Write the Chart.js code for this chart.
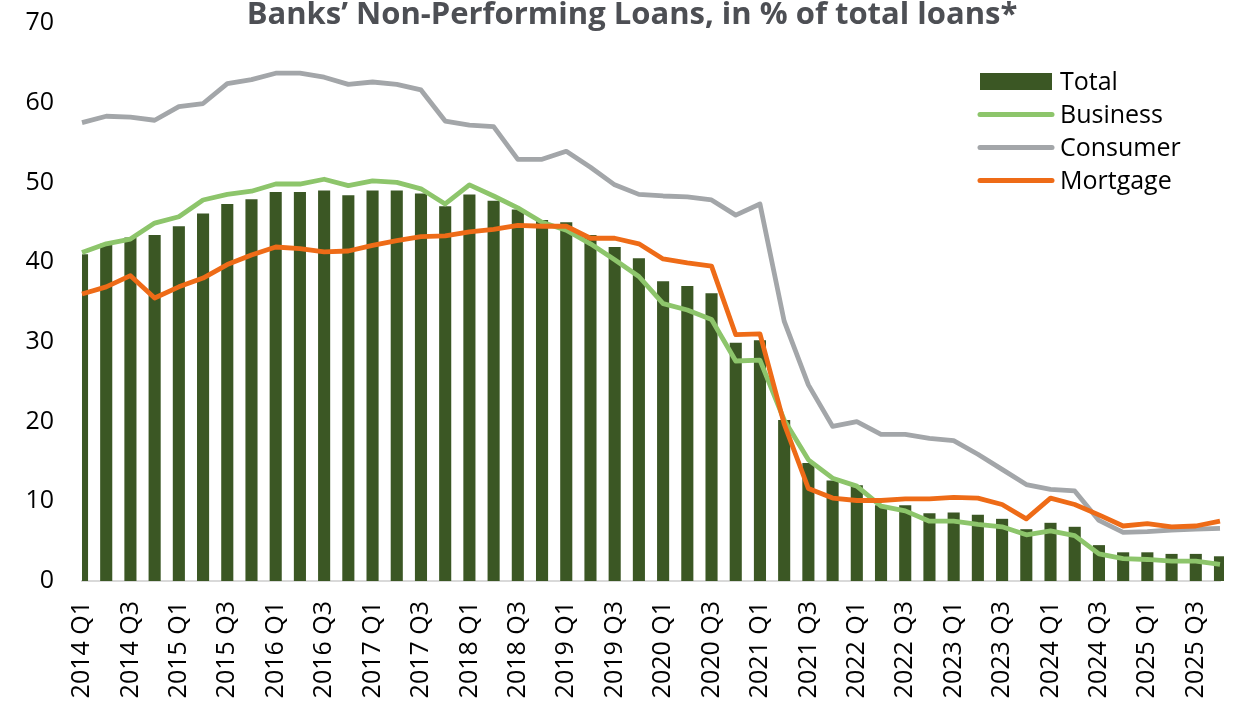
<!DOCTYPE html>
<html>
<head>
<meta charset="utf-8">
<title>Banks' NPL</title>
<script src="https://cdn.jsdelivr.net/npm/chart.js@4/dist/chart.umd.min.js"></script>
<style>
  html, body { margin: 0; padding: 0; background: #fff; }
  #wrap { width: 1233px; height: 705px; }
</style>
</head>
<body>
<div id="wrap"><canvas id="npl-chart" width="1233" height="705"></canvas></div>
<script>
// quarters 2014 Q1 .. 2025 Q4
var years = [2014, 2015, 2016, 2017, 2018, 2019, 2020, 2021, 2022, 2023, 2024, 2025];
var quarters = ['Q1', 'Q2', 'Q3', 'Q4'];
var labels = [];
years.forEach(function (y) {
    quarters.forEach(function (q) { labels.push(y + ' ' + q); });
});

var total = [41.0, 42.3, 43.1, 43.4, 44.5, 46.1, 47.3, 47.9, 48.8, 48.8,
             49.0, 48.4, 49.0, 49.0, 48.6, 47.0, 48.5, 47.7, 46.6, 45.3,
             45.0, 43.4, 41.9, 40.5, 37.6, 37.0, 36.1, 29.9, 30.2, 20.2,
             14.8, 12.6, 12.0, 9.5, 9.5, 8.5, 8.6, 8.3, 7.8, 6.5,
             7.3, 6.8, 4.5, 3.6, 3.6, 3.4, 3.4, 3.1];
var business = [41.2, 42.3, 42.9, 44.9, 45.7, 47.8, 48.5, 48.9, 49.8, 49.8,
                50.4, 49.6, 50.2, 50.0, 49.2, 47.3, 49.7, 48.3, 46.8, 45.0,
                44.0, 42.3, 40.3, 38.2, 34.8, 34.0, 32.8, 27.6, 27.7, 20.2,
                15.2, 12.9, 11.9, 9.4, 8.8, 7.5, 7.5, 7.1, 6.8, 5.8,
                6.3, 5.7, 3.4, 2.8, 2.7, 2.5, 2.5, 2.1];
var consumer = [57.5, 58.3, 58.2, 57.8, 59.5, 59.9, 62.4, 62.9, 63.7, 63.7,
                63.2, 62.3, 62.6, 62.3, 61.6, 57.7, 57.2, 57.0, 52.9, 52.9,
                53.9, 51.9, 49.7, 48.5, 48.3, 48.2, 47.8, 45.9, 47.3, 32.6,
                24.6, 19.4, 20.0, 18.4, 18.4, 17.9, 17.6, 15.9, 14.0, 12.1,
                11.5, 11.3, 7.6, 6.1, 6.2, 6.4, 6.5, 6.6];
var mortgage = [36.0, 36.9, 38.3, 35.5, 36.9, 38.0, 39.7, 40.9, 41.9, 41.7,
                41.3, 41.4, 42.1, 42.7, 43.2, 43.3, 43.8, 44.1, 44.6, 44.5,
                44.5, 43.0, 43.0, 42.3, 40.4, 39.9, 39.5, 30.9, 31.0, 19.7,
                11.6, 10.4, 10.1, 10.1, 10.3, 10.3, 10.5, 10.4, 9.6, 7.8,
                10.4, 9.6, 8.3, 6.9, 7.2, 6.8, 6.9, 7.5];

var titleText = 'Banks\u2019 Non-Performing Loans, in % of total loans*';

Chart.defaults.font.family = "'Open Sans', sans-serif";
Chart.defaults.color = '#000';

// title and legend drawn by hand so they sit where they should
var decorations = {
    id: 'decorations',
    afterDraw: function (chart) {
        var ctx = chart.ctx;
        ctx.save();
        ctx.fillStyle = '#4d4f54';
        ctx.font = "bold 31px 'Open Sans'";
        ctx.textAlign = 'center';
        ctx.textBaseline = 'alphabetic';
        ctx.fillText(titleText, 632, 24);

        ctx.font = "25px 'Open Sans'";
        ctx.textAlign = 'left';
        ctx.fillStyle = '#000';
        var order = [0, 1, 2, 3];
        order.forEach(function (i, row) {
            var ds = chart.data.datasets[i];
            var cy = 81.5 + row * 33;
            if (ds.type === 'bar') {
                ctx.fillStyle = ds.backgroundColor;
                ctx.fillRect(980, cy - 8.5, 72, 17);
            } else {
                ctx.strokeStyle = ds.borderColor;
                ctx.lineWidth = 5;
                ctx.lineCap = 'round';
                ctx.beginPath();
                ctx.moveTo(980, cy);
                ctx.lineTo(1052, cy);
                ctx.stroke();
            }
            ctx.fillStyle = '#000';
            ctx.fillText(ds.label, 1060, cy + 8);
        });
        ctx.restore();
    }
};

var nplChartNode = document.getElementById('npl-chart').getContext('2d');
var nplChart = new Chart(nplChartNode, {
    type: 'bar',
    data: {
        labels: labels,
        datasets: [{
            type: 'bar',
            label: 'Total',
            data: total,
            backgroundColor: '#3b5724',
            barPercentage: 0.5,
            categoryPercentage: 1,
            clip: { left: 0, top: false, right: 4, bottom: false },
            order: 4
        }, {
            type: 'line',
            label: 'Business',
            data: business,
            borderColor: '#8dc56b',
            borderWidth: 4.8,
            pointRadius: 0,
            tension: 0,
            borderJoinStyle: 'round',
            order: 3
        }, {
            type: 'line',
            label: 'Consumer',
            data: consumer,
            borderColor: '#a3a6a9',
            borderWidth: 4.8,
            pointRadius: 0,
            tension: 0,
            borderJoinStyle: 'round',
            order: 2
        }, {
            type: 'line',
            label: 'Mortgage',
            data: mortgage,
            borderColor: '#ee6b17',
            borderWidth: 4.8,
            pointRadius: 0,
            tension: 0,
            borderJoinStyle: 'round',
            order: 1
        }]
    },
    options: {
        responsive: false,
        animation: false,
        layout: {
            padding: { top: 23, right: 13, left: 0, bottom: 0 }
        },
        plugins: {
            legend: { display: false },
            title: { display: false },
            tooltip: { enabled: false }
        },
        scales: {
            x: {
                offset: false,
                grid: { display: false, drawTicks: false },
                border: { display: true, color: '#d9d9d9', width: 2 },
                ticks: {
                    autoSkip: false,
                    minRotation: 90,
                    maxRotation: 90,
                    padding: 20,
                    font: { size: 25 },
                    callback: function (v, i) {
                        return i % 2 === 0 ? labels[i] : '';
                    }
                },
                afterFit: function (s) {
                    s.height = 124;
                    s.paddingLeft = 0;
                    s.paddingRight = 0;
                }
            },
            y: {
                min: 0,
                max: 70,
                grid: { display: false, drawTicks: false },
                border: { display: false },
                ticks: {
                    stepSize: 10,
                    padding: 28,
                    font: { size: 25 }
                },
                afterFit: function (s) {
                    s.width = 82;
                    s.paddingTop = 0;
                    s.paddingBottom = 0;
                }
            }
        }
    },
    plugins: [decorations]
});
</script>
</body>
</html>
